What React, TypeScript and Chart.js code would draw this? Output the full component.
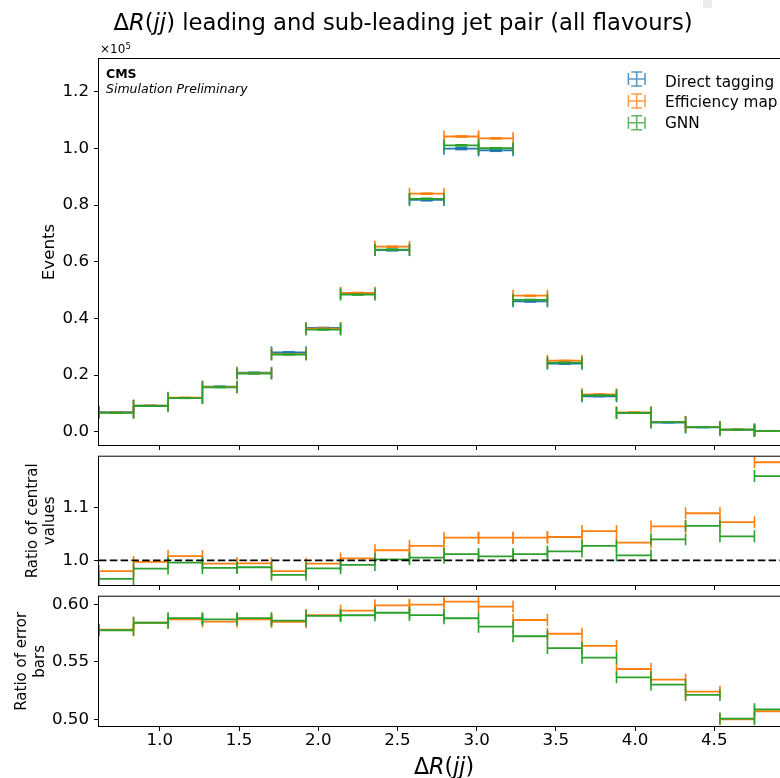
import React, { useEffect, useRef } from 'react';
import { Chart, registerables } from 'chart.js';

Chart.register(...registerables);

const FONT = "'DejaVu Sans', sans-serif";

// ΔR(jj) bin edges
const binEdges = [0.616, 0.834, 1.052, 1.269, 1.487, 1.705, 1.923, 2.141, 2.358, 2.576, 2.794, 3.012, 3.23, 3.447, 3.665, 3.883, 4.101, 4.319, 4.536, 4.754, 4.972];

// tick labels
const xTicks = [1.0, 1.5, 2.0, 2.5, 3.0, 3.5, 4.0, 4.5];
const eventsTicks = [0.0, 0.2, 0.4, 0.6, 0.8, 1.0, 1.2];
const centralTicks = [1.0, 1.1];
const errorTicks = [0.5, 0.55, 0.6];

// Events (x10^5)
const directTagging = [0.069, 0.092, 0.119, 0.159, 0.208, 0.28, 0.366, 0.488, 0.641, 0.818, 0.999, 0.993, 0.46, 0.24, 0.125, 0.066, 0.0325, 0.0152, 0.0069, 0.0027];
const efficiencyMap = [0.0676, 0.0917, 0.12, 0.158, 0.207, 0.274, 0.364, 0.49, 0.653, 0.84, 1.042, 1.0355, 0.48, 0.2506, 0.1319, 0.0682, 0.0346, 0.01655, 0.0074, 0.0032];
const gnn = [0.0666, 0.0906, 0.1185, 0.1567, 0.2053, 0.2724, 0.3605, 0.4838, 0.6423, 0.8221, 1.0108, 1.0004, 0.4654, 0.244, 0.1284, 0.0666, 0.0338, 0.0162, 0.00721, 0.00313];

// statistical errors (x10^5)
const directTaggingErr = [0.0008, 0.0009, 0.001, 0.0012, 0.0014, 0.0016, 0.0019, 0.0022, 0.0025, 0.0029, 0.0032, 0.0032, 0.0021, 0.0015, 0.0011, 0.0008, 0.0006, 0.0004, 0.0003, 0.0002];
const efficiencyMapErr = [0.00046, 0.00053, 0.00059, 0.0007, 0.00082, 0.00094, 0.00112, 0.00131, 0.0015, 0.00174, 0.00193, 0.00191, 0.00123, 0.00086, 0.00062, 0.00044, 0.00032, 0.00021, 0.00015, 0.0001];
const gnnErr = [0.00046, 0.00053, 0.00059, 0.0007, 0.00082, 0.00094, 0.00112, 0.0013, 0.00148, 0.00171, 0.00188, 0.00186, 0.0012, 0.00084, 0.00061, 0.00043, 0.00032, 0.00021, 0.00015, 0.0001];

// Ratio of central values (w.r.t. direct tagging)
const ratioCentralEff = [0.9795, 0.997, 1.008, 0.9938, 0.9944, 0.9795, 0.9938, 1.0037, 1.019, 1.0273, 1.0428, 1.0428, 1.0428, 1.044, 1.0553, 1.0335, 1.064, 1.0888, 1.072, 1.185];
const ratioCentralGnn = [0.965, 0.9845, 0.9957, 0.9857, 0.987, 0.9727, 0.985, 0.9913, 1.002, 1.005, 1.0118, 1.0075, 1.0118, 1.0168, 1.0273, 1.0093, 1.0397, 1.065, 1.0453, 1.159];

// Ratio of error bars
const ratioErrEff = [0.578, 0.584, 0.587, 0.585, 0.587, 0.5847, 0.5907, 0.5945, 0.599, 0.5997, 0.6023, 0.598, 0.5864, 0.5745, 0.5639, 0.5439, 0.5347, 0.5243, 0.5003, 0.5073];
const ratioErrGnn = [0.5775, 0.584, 0.588, 0.587, 0.588, 0.5858, 0.5899, 0.5905, 0.5927, 0.5907, 0.5879, 0.5806, 0.5723, 0.5621, 0.5537, 0.5367, 0.5303, 0.5214, 0.5009, 0.509];

const seriesNames = ['Direct tagging', 'Efficiency map', 'GNN'];
const BLUE = '#1f77b4';
const ORANGE = '#ff7f0e';
const GREEN = '#2ca02c';
const LEGEND_COLORS = ['rgba(31,119,180,0.75)', 'rgba(255,127,14,0.75)', 'rgba(44,160,44,0.75)'];

const LW = 1.8;
const CAP = 6;

function stepData(values: number[]) {
  const pts: { x: number; y: number | null }[] = [];
  values.forEach((v, i) => {
    pts.push({ x: binEdges[i], y: v }, { x: binEdges[i + 1], y: v }, { x: binEdges[i + 1], y: null });
  });
  return pts;
}

function yErrData(values: number[], errs: number[]) {
  const pts: { x: number; y: number | null }[] = [];
  values.forEach((v, i) => {
    const c = (binEdges[i] + binEdges[i + 1]) / 2;
    pts.push({ x: c, y: v + errs[i] }, { x: c, y: v - errs[i] }, { x: c, y: null });
  });
  return pts;
}

function xErrDataset(values: number[], color: string, order: number) {
  return {
    data: stepData(values),
    showLine: true,
    borderColor: color,
    borderWidth: LW,
    pointStyle: 'line',
    rotation: 90,
    pointRotation: 90,
    pointRadius: CAP,
    pointHoverRadius: CAP,
    pointBorderColor: color,
    pointBackgroundColor: color,
    pointBorderWidth: 1.6,
    order,
  };
}

function yErrDataset(values: number[], errs: number[], color: string, order: number) {
  return {
    data: yErrData(values, errs),
    showLine: true,
    borderColor: color,
    borderWidth: LW,
    pointStyle: 'line',
    pointRotation: 0,
    pointRadius: CAP,
    pointHoverRadius: CAP,
    pointBorderColor: color,
    pointBackgroundColor: color,
    pointBorderWidth: 1.6,
    order,
  };
}

const tickFont = { family: FONT, size: 16.67 };

function gridOpts() {
  return { display: true, drawOnChartArea: false, drawTicks: true, tickLength: 5, tickWidth: 1, tickColor: '#000', color: '#000' };
}

function xScale(height: number, showLabels: boolean) {
  return {
    type: 'linear',
    position: 'bottom',
    min: binEdges[0],
    max: binEdges[binEdges.length - 1],
    afterBuildTicks: (s: any) => {
      s.ticks = xTicks.map((v) => ({ value: v }));
    },
    afterFit: (s: any) => {
      s.height = height;
    },
    ticks: {
      display: showLabels,
      color: '#000',
      font: tickFont,
      padding: 0,
      maxRotation: 0,
      autoSkip: false,
      callback: (v: any) => Number(v).toFixed(1),
    },
    grid: gridOpts(),
    border: { display: false },
  };
}

function yScale(min: number, max: number, ticks: number[], digits: number, title: any) {
  return {
    type: 'linear',
    min,
    max,
    afterBuildTicks: (s: any) => {
      s.ticks = ticks.map((v) => ({ value: v }));
    },
    afterFit: (s: any) => {
      s.width = 99;
    },
    ticks: {
      color: '#000',
      font: tickFont,
      padding: 5,
      autoSkip: false,
      callback: (v: any) => Number(v).toFixed(digits),
    },
    title,
    grid: gridOpts(),
    border: { display: false },
  };
}

const framePlugin = {
  id: 'frame',
  afterDraw(chart: any) {
    const { ctx, chartArea: a } = chart;
    ctx.save();
    ctx.strokeStyle = '#000';
    ctx.lineWidth = 1;
    ctx.strokeRect(a.left - 0.5, a.top - 0.5, a.right - a.left + 1, a.bottom - a.top + 1);
    ctx.restore();
  },
};

type Part = [string, string];

function drawParts(ctx: CanvasRenderingContext2D, x: number, y: number, parts: Part[], align: 'left' | 'center') {
  let total = 0;
  parts.forEach(([t, f]) => {
    ctx.font = f;
    total += ctx.measureText(t).width;
  });
  let cx = align === 'center' ? x - total / 2 : x;
  ctx.textAlign = 'left';
  ctx.textBaseline = 'alphabetic';
  parts.forEach(([t, f]) => {
    ctx.font = f;
    ctx.fillText(t, cx, y);
    cx += ctx.measureText(t).width;
  });
}

const topTextPlugin = {
  id: 'topText',
  afterDraw(chart: any) {
    const ctx: CanvasRenderingContext2D = chart.ctx;
    ctx.save();
    ctx.fillStyle = '#000';
    const n = `22.7px ${FONT}`;
    const it = `italic 22.7px ${FONT}`;
    drawParts(ctx, 403, 29.5, [['Δ', n], ['R', it], ['(', n], ['jj', it], [') leading and sub-leading jet pair (all flavours)', n]], 'center');
    // offset text
    drawParts(ctx, 100, 53.3, [['×10', `12px ${FONT}`]], 'left');
    ctx.font = `8.5px ${FONT}`;
    ctx.fillText('5', 125.5, 48.7);
    // CMS label
    drawParts(ctx, 106, 78, [['CMS', `bold 12.5px ${FONT}`]], 'left');
    drawParts(ctx, 106, 93, [['Simulation Preliminary', `italic 12.5px ${FONT}`]], 'left');
    // legend
    const rows = [79, 101, 122.7];
    const baselines = [86.5, 107, 128.3];
    const cx = 636.7;
    rows.forEach((cy, i) => {
      ctx.strokeStyle = LEGEND_COLORS[i];
      ctx.lineWidth = 1.6;
      ctx.beginPath();
      ctx.moveTo(cx - 8.3, cy);
      ctx.lineTo(cx + 8.3, cy);
      ctx.moveTo(cx - 8.3, cy - 6);
      ctx.lineTo(cx - 8.3, cy + 6);
      ctx.moveTo(cx + 8.3, cy - 6);
      ctx.lineTo(cx + 8.3, cy + 6);
      ctx.moveTo(cx, cy - 7);
      ctx.lineTo(cx, cy + 7);
      ctx.moveTo(cx - 5.5, cy - 7);
      ctx.lineTo(cx + 5.5, cy - 7);
      ctx.moveTo(cx - 5.5, cy + 7);
      ctx.lineTo(cx + 5.5, cy + 7);
      ctx.stroke();
      ctx.fillStyle = '#000';
      drawParts(ctx, 665, baselines[i], [[seriesNames[i], `15.3px ${FONT}`]], 'left');
    });
    ctx.fillStyle = '#ececec';
    ctx.fillRect(703, 0, 9, 8);
    ctx.restore();
  },
};

const bottomTextPlugin = {
  id: 'bottomText',
  afterDraw(chart: any) {
    const ctx: CanvasRenderingContext2D = chart.ctx;
    const a = chart.chartArea;
    ctx.save();
    ctx.fillStyle = '#000';
    const n = `22.2px ${FONT}`;
    const it = `italic 22.2px ${FONT}`;
    drawParts(ctx, (a.left + a.right) / 2, 204, [['Δ', n], ['R', it], ['(', n], ['jj', it], [')', n]], 'center');
    ctx.restore();
  },
};

function baseOptions(padTop: number, scales: any) {
  return {
    responsive: false,
    animation: false,
    events: [],
    layout: { padding: { top: padTop, right: 11, bottom: 0, left: 0 } },
    plugins: { legend: { display: false }, tooltip: { enabled: false } },
    scales,
  };
}

function topConfig(): any {
  return {
    type: 'scatter',
    data: {
      datasets: [
        xErrDataset(gnn, GREEN, 1),
        yErrDataset(gnn, gnnErr, GREEN, 2),
        xErrDataset(efficiencyMap, ORANGE, 3),
        yErrDataset(efficiencyMap, efficiencyMapErr, ORANGE, 4),
        xErrDataset(directTagging, BLUE, 5),
        yErrDataset(directTagging, directTaggingErr, BLUE, 6),
      ],
    },
    options: baseOptions(59, {
      x: xScale(15, false),
      y: yScale(-0.047, 1.3155, eventsTicks, 1, {
        display: true,
        text: 'Events',
        color: '#000',
        font: { family: FONT, size: 16.67 },
        padding: { top: 40, bottom: 0 },
      }),
    }),
    plugins: [framePlugin, topTextPlugin],
  };
}

function midConfig(): any {
  return {
    type: 'scatter',
    data: {
      datasets: [
        {
          data: [{ x: binEdges[0], y: 1 }, { x: binEdges[binEdges.length - 1], y: 1 }],
          showLine: true,
          borderColor: '#000',
          borderWidth: 1.6,
          borderDash: [7.5, 3.3],
          pointRadius: 0,
          order: 0,
        },
        xErrDataset(ratioCentralGnn, GREEN, 1),
        xErrDataset(ratioCentralEff, ORANGE, 2),
      ],
    },
    options: baseOptions(26.7, {
      x: xScale(14, false),
      y: yScale(0.9535, 1.1955, centralTicks, 1, {
        display: true,
        text: ['Ratio of central', 'values'],
        color: '#000',
        font: { family: FONT, size: 15, lineHeight: 1.1 },
        padding: { top: 25, bottom: 0 },
      }),
    }),
    plugins: [framePlugin],
  };
}

function botConfig(): any {
  return {
    type: 'scatter',
    data: {
      datasets: [xErrDataset(ratioErrGnn, GREEN, 1), xErrDataset(ratioErrEff, ORANGE, 2)],
    },
    options: baseOptions(26.7, {
      x: xScale(52, true),
      y: yScale(0.4945, 0.6066, errorTicks, 2, {
        display: true,
        text: ['Ratio of error', 'bars'],
        color: '#000',
        font: { family: FONT, size: 15, lineHeight: 1.2 },
        padding: { top: 13, bottom: 0 },
      }),
    }),
    plugins: [framePlugin, bottomTextPlugin],
  };
}

export default function App() {
  const topRef = useRef<HTMLCanvasElement>(null);
  const midRef = useRef<HTMLCanvasElement>(null);
  const botRef = useRef<HTMLCanvasElement>(null);

  useEffect(() => {
    const charts = [
      new Chart(topRef.current as HTMLCanvasElement, topConfig()),
      new Chart(midRef.current as HTMLCanvasElement, midConfig()),
      new Chart(botRef.current as HTMLCanvasElement, botConfig()),
    ];
    return () => charts.forEach((c) => c.destroy());
  }, []);

  return (
    <div style={{ position: 'fixed', left: 0, top: 0, width: 780, height: 778, overflow: 'hidden', background: '#fff' }}>
      <canvas ref={topRef} width={800} height={460} style={{ position: 'absolute', left: 0, top: 0, width: 800, height: 460 }} />
      <canvas ref={midRef} width={800} height={170} style={{ position: 'absolute', left: 0, top: 430, width: 800, height: 170 }} />
      <canvas ref={botRef} width={800} height={208} style={{ position: 'absolute', left: 0, top: 570, width: 800, height: 208 }} />
    </div>
  );
}
